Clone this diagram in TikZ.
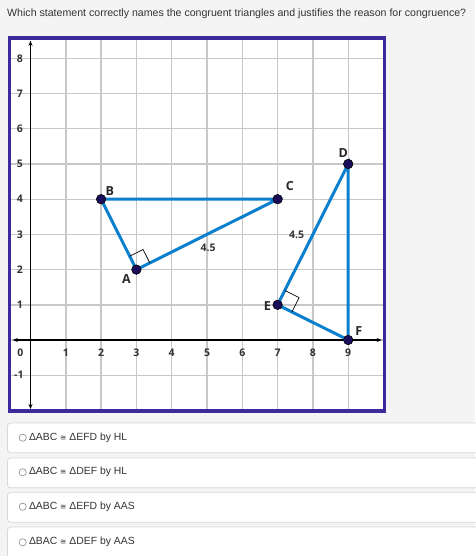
\documentclass[tikz,border=0pt]{standalone}
\usepackage{fontspec}
\setmainfont{Liberation Sans}
\newfontfamily\labelfont{Open Sans}
\newfontfamily\symfont{DejaVu Sans}
\usetikzlibrary{arrows.meta,calc,positioning}
\definecolor{pagegray}{HTML}{F4F4F4}
\definecolor{textgray}{HTML}{333333}
\definecolor{framepurple}{HTML}{3A2A9C}
\definecolor{segblue}{HTML}{0B80CF}
\definecolor{dotnavy}{HTML}{1C0D5C}
\definecolor{gridgray}{HTML}{C8C8C8}
\definecolor{boxgray}{HTML}{D8D8D8}
\definecolor{radiogray}{HTML}{8A8A8A}
\newcommand{\cng}{{\symfont\fontsize{7.5}{8}\selectfont ≅}}

\begin{document}
\begin{tikzpicture}[x=1pt,y=-1pt,
  gridline/.style={gridgray,line width=1.4pt},
  axisline/.style={black,line width=1.6pt},
  seg/.style={segblue,line width=3pt},
  vertex/.style={circle,fill=dotnavy,draw=black,line width=0.6pt,
    inner sep=0pt,minimum size=9.5pt},
  ptlabel/.style={font=\labelfont\bfseries\fontsize{12.5}{13}\selectfont,
    text=black!85,inner sep=0pt},
  ticklabel/.style={font=\labelfont\bfseries\fontsize{10.5}{11}\selectfont,
    text=black!80,inner sep=0pt},
  optbox/.style={draw=boxgray,fill=white,rounded corners=3pt,line width=0.8pt},
  radio/.style={draw=radiogray,line width=0.6pt},
  opttext/.style={anchor=west,text=textgray,
    font=\fontsize{10.4}{12}\selectfont,inner sep=0pt}]
  \useasboundingbox (0,0) rectangle (475,556);
  \fill[pagegray] (0,0) rectangle (475,556);
  \node[anchor=west,text=textgray,font=\fontsize{10.6}{12}\selectfont,inner sep=0pt]
    (question) at (7,14) {Which statement correctly names the congruent triangles
    and justifies the reason for congruence?};

  % coordinate plane
  \begin{scope}[shift={(30.5,340)},x=35.3pt,y=35.2pt]
    \fill[white] (-0.6,-2.02) rectangle (10.03,8.58);
    \foreach \x in {1,...,9}
      \draw[gridline] (\x,-2.02) -- (\x,8.58);
    \foreach \y in {-1,...,8}
      \draw[gridline] (-0.6,\y) -- (10.03,\y);
    \draw[axisline,{Stealth[length=5pt,width=4pt]}-{Stealth[length=5pt,width=4pt]}]
      (-0.5,0) -- (9.95,0);
    \draw[axisline,{Stealth[length=5pt,width=4pt]}-{Stealth[length=5pt,width=4pt]}]
      (0,8.5) -- (0,-1.96);
    \foreach \x in {1,...,9}
      \node[ticklabel] (xt\x) at (\x,-0.36) {\x};
    \foreach \y in {1,...,8}
      \node[ticklabel] (yt\y) at (-0.3,\y) {\y};
    \node[ticklabel] (origin) at (-0.29,-0.36) {0};
    \node[ticklabel] (ytm1) at (-0.33,-1) {-1};

    % triangles
    \coordinate (A) at (3,2);
    \coordinate (B) at (2,4);
    \coordinate (C) at (7,4);
    \coordinate (D) at (9,5);
    \coordinate (E) at (7,1);
    \coordinate (F) at (9,0);
    \draw[seg] (A) -- (B) -- (C) -- cycle;
    \draw[seg] (D) -- (E) -- (F) -- cycle;
    \draw[line width=0.7pt] ($(A)!15pt!(B)$) -- ($(A)!15pt!(B)+(A)!15pt!(C)-(A)$)
      -- ($(A)!15pt!(C)$);
    \draw[line width=0.7pt] ($(E)!16pt!(D)$) -- ($(E)!16pt!(D)+(E)!16pt!(F)-(E)$)
      -- ($(E)!16pt!(F)$);
    \foreach \p in {A,B,C,D,E,F}
      \node[vertex] (dot\p) at (\p) {};
    \node[ptlabel] (labA) at (2.72,1.72) {A};
    \node[ptlabel] (labB) at (2.25,4.23) {B};
    \node[ptlabel] (labC) at (7.35,4.36) {C};
    \node[ptlabel] (labD) at (8.86,5.32) {D};
    \node[ptlabel] (labE) at (6.71,0.97) {E};
    \node[ptlabel] (labF) at (9.3,0.26) {F};
    \node[ticklabel] (lenAC) at (5.03,2.61) {4.5};
    \node[ticklabel] (lenDE) at (7.54,3.0) {4.5};

    \draw[framepurple,line width=3.6pt] (-0.6,-2.02) rectangle (10.03,8.58);
  \end{scope}

  % answer choices
  \draw[optbox] (7.5,423) rectangle (490,452.7);
  \draw[optbox] (7.5,458) rectangle (490,487.7);
  \draw[optbox] (7.5,492.3) rectangle (490,522.3);
  \draw[optbox] (7.5,527) rectangle (490,570);
  \draw[radio] (22.7,437.7) circle (3.6);
  \draw[radio] (22.7,472.3) circle (3.6);
  \draw[radio] (22.7,506.7) circle (3.6);
  \draw[radio] (22.7,542.3) circle (3.6);
  \node[opttext] (opt1) at (28.8,437.7) {ΔABC \cng{} ΔEFD by HL};
  \node[opttext] (opt2) at (28.8,472.3) {ΔABC \cng{} ΔDEF by HL};
  \node[opttext] (opt3) at (28.8,506.7) {ΔABC \cng{} ΔEFD by AAS};
  \node[opttext] (opt4) at (28.8,542.3) {ΔBAC \cng{} ΔDEF by AAS};
\end{tikzpicture}
\end{document}
